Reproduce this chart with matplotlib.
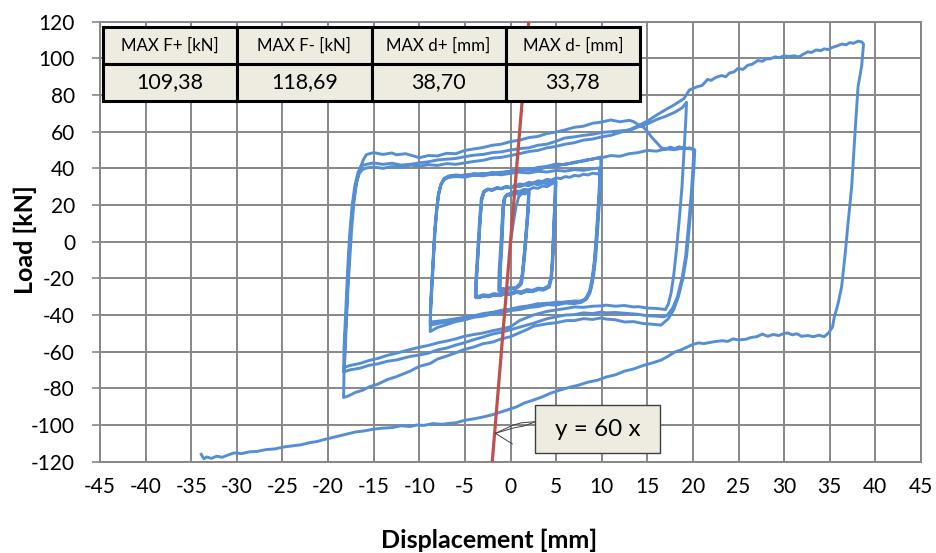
import matplotlib
matplotlib.use("Agg")
import matplotlib.pyplot as plt
from matplotlib.patches import Rectangle

plt.rcParams['font.family'] = ['Lato', 'DejaVu Sans']
plt.rcParams['axes.unicode_minus'] = False

# ---------------- data (displacement [mm], load [kN]) ----------------
cycles_2mm = [
    (0, 0), (0.3, 10), (0.6, 19), (0.9, 24.5), (1.3, 26.4), (1.6, 26), (1.9, 27.6), (2.0, 26.5),
    (1.9, 16), (1.7, 4), (1.5, -8), (1.3, -18), (1.1, -22.5), (0.7, -24.6), (0.3, -25.4), (-0.1, -24.9), (-0.5, -26), (-0.9, -25.6), (-1.3, -26.6),
    (-1.25, -16), (-1.1, -4), (-0.95, 8), (-0.85, 18), (-0.7, 23.5), (-0.4, 25.6), (0, 25.2), (0.4, 26.3), (0.8, 26), (1.2, 27.2), (1.6, 26.9), (2.0, 28),
    (1.9, 18), (1.7, 5), (1.5, -7), (1.3, -17), (1.15, -22.6), (0.8, -24.2), (0.4, -25.8), (0, -25.3), (-0.4, -26.5), (-0.8, -26.1), (-1.2, -27),
    (-1.15, -15), (-1.0, -3), (-0.9, 9), (-0.8, 19), (-0.65, 24), (-0.3, 25.8), (0.1, 25.4), (0.5, 26.6), (0.9, 26.2), (1.3, 27.4), (1.7, 27), (2.05, 28.2),
    (1.95, 17), (1.75, 4), (1.55, -8), (1.35, -18), (1.2, -23), (0.85, -24.8), (0.45, -25.6), (0.05, -25.1), (-0.35, -26.2), (-0.75, -25.8), (-1.15, -26.8),
    (-1.1, -15), (-0.95, -3), (-0.85, 9), (-0.75, 19), (-0.6, 24.2), (-0.3, 25.9), (0, 26.4),
]

cycles_5mm = [
    (0.5, 27.8), (1, 27.4), (1.5, 28.6), (2, 28.2), (2.5, 29.5), (3, 29.1), (3.5, 30.4), (4, 30), (4.5, 31.5), (4.9, 32.4),
    (4.9, 26), (4.8, 14), (4.7, 2), (4.6, -10), (4.45, -20), (4.2, -24.5), (3.6, -26.2), (3, -26), (2.4, -27.2), (1.8, -26.8), (1.2, -28), (0.6, -27.6), (0, -28.7),
    (-0.6, -28.3), (-1.2, -29.4), (-1.8, -29), (-2.4, -30), (-3, -29.6), (-3.5, -30.5), (-3.8, -30.2),
    (-3.75, -22), (-3.6, -10), (-3.45, 2), (-3.3, 14), (-3.15, 23), (-2.9, 27), (-2.5, 28.4), (-2, 28), (-1.5, 29.2), (-1, 28.8), (-0.5, 29.8), (0, 29.4),
    (0.5, 30.4), (1, 30), (1.5, 31), (2, 30.6), (2.5, 31.6), (3, 31.2), (3.5, 32.2), (4, 31.8), (4.5, 32.8), (4.95, 33),
    (4.9, 27), (4.8, 15), (4.7, 3), (4.6, -9), (4.45, -19), (4.2, -24), (3.6, -25.6), (3, -25.3), (2.4, -26.5), (1.8, -26.1), (1.2, -27.3), (0.6, -26.9), (0, -28),
    (-0.6, -27.6), (-1.2, -28.7), (-1.8, -28.3), (-2.4, -29.3), (-3, -28.9), (-3.5, -29.8), (-3.85, -29.5),
    (-3.8, -21), (-3.65, -9), (-3.5, 3), (-3.35, 15), (-3.2, 23.5), (-2.95, 27.4), (-2.5, 28.8), (-2, 28.4), (-1.5, 29.5), (-1, 29.1), (-0.5, 30.1), (0, 29.7),
    (0.5, 30.7), (1, 30.3), (1.5, 31.3), (2, 30.9), (2.5, 31.9), (3, 31.5), (3.5, 32.4), (4, 32), (4.5, 32.9), (5, 32.6),
    (4.95, 26), (4.85, 14), (4.75, 2), (4.65, -10), (4.5, -20), (4.25, -24.8), (3.6, -26.4), (3, -26.1), (2.4, -27.3), (1.8, -26.9), (1.2, -28.1), (0.6, -27.7), (0, -28.8),
    (-0.6, -28.4), (-1.2, -29.5), (-1.8, -29.1), (-2.4, -30.1), (-3, -29.7), (-3.5, -30.6), (-3.8, -30.4),
    (-3.75, -22), (-3.6, -10), (-3.45, 2), (-3.3, 14), (-3.15, 23), (-2.9, 27.2), (-2.5, 28.6), (-2, 28.2), (-1.5, 29.3), (-1, 28.9), (-0.5, 29.9), (0, 29.5),
]

cycles_10mm = [
    (0.5, 30.6), (1, 31.5), (1.5, 31.1), (2, 32.4), (2.5, 32), (3, 33.2), (3.5, 32.9), (4, 34), (4.5, 33.6), (5, 34.8), (5.5, 34.4), (6, 35.5),
    (6.5, 35.1), (7, 36.2), (7.5, 35.8), (8, 36.8), (8.5, 36.4), (9, 37.4), (9.5, 37), (9.85, 37.8),
    (9.8, 30), (9.6, 15), (9.4, 0), (9.2, -12), (8.95, -22), (8.7, -28), (8.3, -31.5), (7.8, -33), (7, -33.8), (6, -33.5), (5, -34.6), (4, -34.3), (3, -35.4),
    (2, -35.9), (1, -37), (0, -37.6), (-1, -38.8), (-2, -39.4), (-3, -40.6), (-4, -41.2), (-5, -42.6), (-6, -43.6), (-7, -45.2), (-8, -46.8), (-8.5, -48.2), (-8.8, -49),
    (-8.75, -38), (-8.6, -24), (-8.45, -10), (-8.3, 4), (-8.1, 16), (-7.9, 25), (-7.65, 31), (-7.3, 34.5), (-6.8, 35.8), (-6, 36.4), (-5, 36), (-4, 37.2),
    (-3, 36.8), (-2, 37.8), (-1, 37.4), (0, 38.4),
    (1, 38.8), (2, 39.8), (3, 39.4), (4, 40.6), (5, 41.2), (6, 42.4), (7, 43), (8, 44.4), (9, 45), (9.9, 46.2),
    (9.9, 38), (9.75, 22), (9.55, 6), (9.35, -8), (9.1, -19), (8.8, -26), (8.4, -30.5), (7.9, -32.2), (7, -33), (6, -32.8), (5, -33.8), (4, -33.5), (3, -34.6),
    (2, -35.2), (1, -36.4), (0, -36.9), (-1, -38.1), (-2, -38.7), (-3, -40), (-4, -40.5), (-5, -41.8), (-6, -42.5), (-7, -43.6), (-8, -44.7), (-8.8, -45.5),
    (-8.75, -35), (-8.6, -22), (-8.45, -8), (-8.3, 5), (-8.1, 17), (-7.9, 25.5), (-7.65, 31), (-7.3, 33.8), (-6.8, 35), (-6, 35.6), (-5, 35.2), (-4, 36.3),
    (-3, 35.9), (-2, 36.9), (-1, 36.5), (0, 37.3),
    (1, 37.9), (2, 37.5), (3, 38.4), (4, 38), (5, 38.9), (6, 38.5), (7, 39.3), (8, 38.9), (9, 39.8), (9.75, 40.2),
    (9.75, 32), (9.6, 18), (9.4, 3), (9.2, -10), (8.95, -20), (8.65, -27), (8.25, -31), (7.8, -32.5), (7, -32.3), (6, -33.2), (5, -32.9), (4, -34), (3, -33.8),
    (2, -35), (1, -35.6), (0, -36.8), (-1, -37.4), (-2, -38.6), (-3, -39.2), (-4, -40.4), (-5, -41.2), (-6, -42), (-7, -42.8), (-8, -43.4), (-8.8, -43.8),
    (-8.75, -33), (-8.6, -20), (-8.45, -6), (-8.3, 7), (-8.1, 18), (-7.9, 26), (-7.6, 31.5), (-7.2, 34.5), (-6.6, 35.8), (-6, 35.4), (-5, 36.5), (-4, 36.1),
    (-3, 37.2), (-2, 36.8), (-1, 37.9), (0, 38.4),
]

cycles_19mm = [
    (1, 39.6), (2, 39.2), (3, 40.5), (4, 41.1), (5, 42.4), (6, 42), (7, 43.4), (8, 43.9), (9, 45.2), (10, 45.8), (11, 47), (12, 46.6), (13, 48), (14, 48.6),
    (15, 49.8), (16, 49.4), (17, 50.6), (18, 50.2), (19, 51.2), (19.8, 50.6), (20.2, 50),
    (20.1, 40), (19.9, 25), (19.6, 8), (19.3, -8), (18.9, -20), (18.4, -30), (17.9, -37), (17.3, -42), (16.5, -45.5), (15.5, -45), (14.5, -44.6), (13.5, -43.6),
    (12.5, -43.8), (11.5, -42.6), (10.5, -42.2), (9.9, -41.6), (9, -42.4), (8, -42), (7, -43), (6.2, -43), (5, -44.2), (4, -44.8), (2.6, -46), (1.5, -48.6),
    (0, -51.8), (-1, -53), (-2, -54.8), (-3, -55.6), (-4, -57.4), (-5.2, -59), (-6, -60.6), (-7, -62.4), (-8, -64), (-8.8, -66.4), (-10, -68), (-11, -70.6),
    (-12.5, -73.6), (-13.5, -75.2), (-14.5, -77.6), (-15.5, -79.2), (-16.2, -81), (-17, -82.2), (-17.8, -84.2), (-18.3, -85),
    (-18.25, -72), (-18.1, -56), (-17.95, -40), (-17.8, -24), (-17.6, -8), (-17.4, 8), (-17.15, 22), (-16.85, 33), (-16.5, 40), (-16.1, 45), (-15.8, 47.5),
    (-15, 48.6), (-14, 47.6), (-13, 48.4), (-12.5, 47.4), (-11.5, 48), (-10.5, 46.6), (-10, 45.8), (-9, 47), (-8, 46.8), (-7, 48.2), (-6, 48), (-5, 49.8),
    (-4, 50.6), (-3, 51.4), (-2, 52.6), (-1, 53.2), (0, 54.6),
    (1, 55.4), (2, 56.8), (3, 57.4), (4, 59), (5, 59.8), (6, 61), (7, 62.4), (8, 63), (9, 64.6), (9.9, 65.2), (11, 66.4), (12, 65.4), (13, 66.2), (13.5, 65.5),
    (14, 63.8), (14.5, 62.8), (15, 60.2), (15.5, 56.8), (16, 54.2), (16.5, 51.4), (17, 50.4), (17.5, 51.6), (18, 50.8), (18.5, 51.8), (19, 50.6), (19.6, 51.2), (20.1, 50.4),
    (20.0, 40), (19.8, 25), (19.5, 8), (19.2, -8), (18.8, -20), (18.3, -30), (17.8, -36), (17.2, -40), (16.8, -41), (16, -40.6), (15, -40.4), (14, -39.6),
    (13.5, -39.4), (12.5, -39), (11.5, -38.6), (10.5, -38.8), (9.9, -38.4), (9, -39.2), (8, -38.8), (7, -39.8), (6, -40), (5, -41), (4, -42), (2.5, -44.5),
    (1, -46.6), (0, -48), (-1, -49.4), (-2, -50.4), (-3, -52), (-4, -53.4), (-5.2, -55.3), (-6, -56.4), (-7, -58), (-8, -59), (-9, -60.8), (-10, -61.8),
    (-11, -62.6), (-12.5, -64.5), (-13.5, -65.2), (-14.5, -66.6), (-15.5, -67.4), (-16.5, -69), (-17.5, -69.8), (-18.3, -71),
    (-18.25, -58), (-18.1, -42), (-17.95, -26), (-17.8, -10), (-17.6, 6), (-17.35, 20), (-17.05, 31), (-16.7, 38), (-16.3, 41.5), (-15.8, 42.2), (-15, 43),
    (-14, 42.2), (-13, 42.8), (-12, 41.8), (-11, 42.2), (-10, 43), (-9, 43.6), (-8, 44.6), (-7, 45), (-6, 45.4), (-5, 46.4), (-4, 47.2), (-3, 47.6), (-2, 48.6),
    (-1, 49), (0, 50),
    (1, 50.8), (2, 51.2), (3, 52.6), (4, 53.2), (5, 54.8), (5.9, 56.5), (7, 57.2), (8, 58), (9, 58.6), (10, 59.6), (11, 60), (12, 60.4), (13.2, 61), (14, 62.6),
    (15, 64.2), (16, 66.6), (17, 68.4), (18, 70.6), (18.8, 73), (19.3, 76),
    (19.2, 65), (19.0, 48), (18.8, 30), (18.5, 12), (18.2, -4), (17.9, -18), (17.6, -28), (17.3, -34), (17, -37), (16, -36.4), (15, -36.2), (14, -35.4),
    (13.5, -35.6), (12.5, -34.8), (11.5, -35.2), (10.5, -34.6), (9.9, -35), (9, -35.2), (8, -35.8), (7, -35.6), (6, -36.5), (5, -37.2), (4, -38), (2.5, -40),
    (1, -43), (0, -46.4), (-1, -47.6), (-2, -48.6), (-3, -49.8), (-4, -50.6), (-5.2, -51.8), (-6, -53), (-7, -54.2), (-8, -55.2), (-9, -56.6), (-10, -57.6),
    (-11, -58.8), (-12.5, -60.8), (-13.5, -62), (-14.5, -63.6), (-15.5, -64.8), (-16.5, -66.4), (-17.5, -67.4), (-18.2, -68.5),
    (-18.15, -55), (-18.0, -40), (-17.85, -24), (-17.7, -8), (-17.5, 8), (-17.25, 21), (-16.95, 31), (-16.6, 37), (-16.2, 39.5), (-15.8, 40.2), (-15, 40.8),
    (-14, 40), (-13, 41), (-12, 40.4), (-11, 41.8), (-10, 41.2), (-9, 42), (-8, 41.6), (-7, 42.6), (-6, 42.2), (-5, 43), (-4, 43.8), (-3, 44.4), (-2, 45.6),
    (-1, 46), (0, 47),
]

final_cycle = [
    (1, 48), (2, 49.2), (3, 49.8), (4, 51.2), (5, 52), (6, 53.2), (7, 54), (8, 55.4), (9, 56), (10, 57.2), (11, 58), (12, 59.6), (13, 61), (14, 63.2),
    (15, 65.8), (16, 69), (17, 72), (17.9, 74.5), (19, 78), (19.6, 82.7), (20.5, 84.6), (21, 85.2), (21.6, 88.5), (22, 88), (22.5, 89.6), (23.1, 90.6),
    (23.6, 90), (24, 92), (24.5, 92.6), (24.9, 94.4), (25.5, 94), (26, 96.2), (26.5, 96.8), (27.1, 98.8), (27.6, 98.4), (28, 99.6), (28.5, 99.8), (29, 100.8),
    (29.5, 100.4), (30, 101.4), (30.5, 101), (31.1, 101.4), (31.6, 100.8), (32, 102), (32.6, 103.6), (33, 103.2), (33.5, 104.6), (34, 104.2), (34.4, 105.2),
    (34.8, 104.8), (35.3, 106), (35.8, 106.8), (36.3, 107.8), (36.8, 107.4), (37.2, 108.6), (37.6, 108.2), (38.1, 109.4), (38.5, 109), (38.7, 107.8),
    (38.5, 96), (38.1, 84.6), (37.8, 62), (37.4, 30), (37, 10), (36.7, -6), (36.3, -24.5), (35.9, -34), (35.5, -41), (35.3, -46.4), (34.9, -49.6), (34.4, -51.8),
    (33.8, -51), (33.2, -51.8), (32.6, -51.2), (31.9, -51.6), (31.4, -50.2), (30.9, -50.8), (30.4, -49.8), (30, -50), (29.4, -51.2), (28.8, -50.6),
    (28.2, -51.6), (27.6, -50.4), (27, -51.8), (26.4, -52.2), (25.8, -53.2), (25, -53.6), (24.4, -53), (23.8, -54.4), (23.2, -54), (22.4, -54.5),
    (21.8, -55), (21.2, -55.6), (20.6, -55.2), (20, -56), (19.4, -57.4), (18.7, -59), (18, -60.2), (17.3, -62.4), (16.5, -64.6), (15.5, -66.2),
    (14.5, -67.6), (13.5, -69.4), (12.5, -70.6), (11.5, -72.6), (10.5, -73.8), (9.5, -75.6), (8.5, -76.6), (7.5, -78.2), (6.5, -79.4), (5.5, -80.8),
    (4.4, -82.6), (3.5, -84.6), (2.5, -86.4), (1.5, -88), (0.7, -90), (0, -91.2), (-1, -92.8), (-2, -94.4), (-2.9, -95.5), (-4, -96.6), (-5, -97.4),
    (-6, -98.8), (-6.6, -99), (-7.5, -99.6), (-8.5, -99.2), (-9.5, -100.2), (-10.3, -100), (-11, -100.8), (-12, -100.4), (-13, -101.4), (-14, -101.7),
    (-15, -102.2), (-16, -103.2), (-17, -103.8), (-17.6, -104.5), (-18.5, -105.6), (-19.5, -106.8), (-20.5, -108), (-21.2, -109), (-22, -109.6),
    (-23, -110.8), (-24, -111.4), (-24.9, -112), (-25.8, -113), (-26.8, -113.4), (-27.8, -114.4), (-28.6, -114.6), (-29.5, -115.6), (-30.3, -115.2),
    (-31, -116.4), (-31.6, -117.6), (-32.2, -117), (-32.8, -118.2), (-33.3, -117.4), (-33.6, -118.4), (-33.8, -117), (-33.9, -116),
]

trend_slope = 60
trend_x = [-2.0, 2.0]

table_header = ["MAX F+ [kN]", "MAX F- [kN]", "MAX d+ [mm]", "MAX d- [mm]"]
table_values = ["109,38", "118,69", "38,70", "33,78"]

x_ticks = list(range(-45, 50, 5))
y_ticks = list(range(-120, 140, 20))

# ---------------- figure ----------------
fig = plt.figure(figsize=(9.36, 5.53), dpi=100)
ax = fig.add_axes([100 / 936, 1 - 461.7 / 553, 821 / 936, 440 / 553])

path = cycles_2mm + cycles_5mm + cycles_10mm + cycles_19mm + final_cycle
px = [p[0] for p in path]
py = [p[1] for p in path]
ax.plot(px, py, color='#558ED5', lw=2.1, zorder=3, solid_joinstyle='round')

ty = [trend_slope * v for v in trend_x]
ax.plot(trend_x, ty, color='#C0504D', lw=2.3, zorder=4)

ax.set_xlim(-45, 45)
ax.set_ylim(-120, 120)
ax.set_xticks(x_ticks)
ax.set_yticks(y_ticks)
ax.grid(True, color='#878787', lw=1.4, zorder=0)
ax.set_axisbelow(True)
for s in ax.spines.values():
    s.set_color('#878787')
    s.set_linewidth(1.4)
ax.tick_params(axis='y', length=6, width=1.2, color='#878787', pad=12, labelsize=15)
ax.tick_params(axis='x', length=0, pad=11, labelsize=15)

ax.set_xlabel('Displacement [mm]', fontsize=18, fontweight='bold')
ax.set_ylabel('Load [kN]', fontsize=18, fontweight='bold')
ax.xaxis.set_label_coords((489 - 100) / 821, (461.7 - 540) / 440)
ax.yaxis.set_label_coords((25 - 100) / 821, (461.7 - 240) / 440)
ax.xaxis.label.set_va('center')
ax.yaxis.label.set_va('center')

# summary table
tbl = ax.table(cellText=[table_header, table_values], cellLoc='center',
               bbox=[3 / 821, (461.7 - 101) / 440, 537 / 821, 74 / 440], zorder=10)
tbl.auto_set_font_size(False)
for (r, c), cell in tbl.get_celld().items():
    cell.set_facecolor('#EEECE1')
    cell.set_edgecolor('black')
    cell.set_linewidth(2.2)
    cell.get_text().set_fontsize(12.2 if r == 0 else 15.5)

# trendline label with callout
bx0, bx1, by0, by1 = 2.64, 16.4, -115.3, -89.1
ax.add_patch(Rectangle((bx0, by0), bx1 - bx0, by1 - by0, facecolor='#EEECE1',
                       edgecolor='#404040', lw=1.0, zorder=8))
ax.text((bx0 + bx1) / 2, (by0 + by1) / 2, 'y = 60 x', ha='center', va='center',
        fontsize=17.5, zorder=9)
pt = (-1.65, -104.5)
ax.plot([pt[0], 0.3, 1.2, bx0], [pt[1], -100.0, -98.8, -98.2], color='#404040', lw=0.7, zorder=7)
ax.plot([pt[0], 0.4, 1.4, bx0], [pt[1], -101.5, -100.6, -98.4], color='#404040', lw=0.7, zorder=7)
ax.plot([pt[0], 0.2], [pt[1], -110.3], color='#404040', lw=0.7, zorder=7)

fig.savefig('out.png', dpi=100)
